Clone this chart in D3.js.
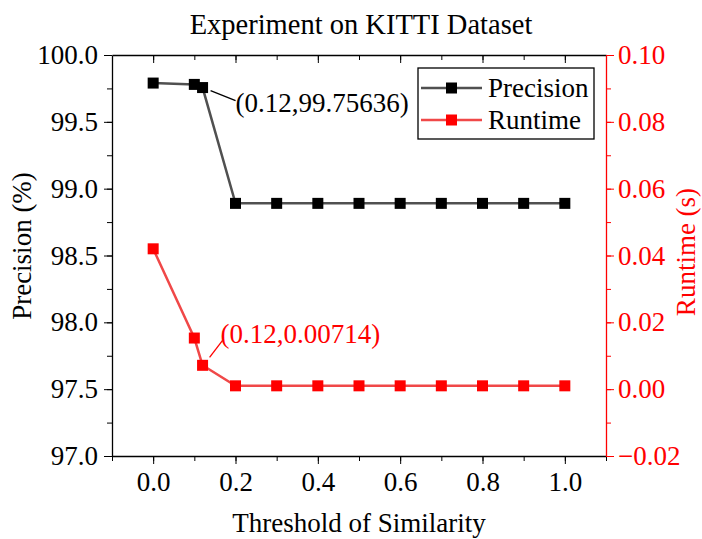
<!DOCTYPE html>
<html>
<head>
<meta charset="utf-8">
<script src="https://cdn.jsdelivr.net/npm/d3@7"></script>
<style>
  body { margin: 0; background: #fff; }
</style>
</head>
<body>
<div id="chart"></div>
<script>
// data
const thresholds = [0.0, 0.1, 0.12, 0.2, 0.3, 0.4, 0.5, 0.6, 0.7, 0.8, 0.9, 1.0];
const precision = [99.79, 99.78, 99.75636, 98.89, 98.89, 98.89, 98.89, 98.89, 98.89, 98.89, 98.89, 98.89];
const runtime = [0.042, 0.0153, 0.00714, 0.001, 0.001, 0.001, 0.001, 0.001, 0.001, 0.001, 0.001, 0.001];
const xTicks = [0.0, 0.2, 0.4, 0.6, 0.8, 1.0];
const precTicks = [97.0, 97.5, 98.0, 98.5, 99.0, 99.5, 100.0];
const runTicks = [-0.02, 0.0, 0.02, 0.04, 0.06, 0.08, 0.10];

const width = 702, height = 539;
const margin = { top: 55, right: 96, bottom: 83, left: 112 };
const red = '#ff0000';
const serif = '"Liberation Serif", "Times New Roman", serif';
const fontSize = '27px';

const svg = d3.select('#chart').append('svg')
    .attr('width', width)
    .attr('height', height)
    .attr('font-family', serif);

const x = d3.scaleLinear().domain([-0.1, 1.1]).range([margin.left, width - margin.right]);
const yL = d3.scaleLinear().domain([97, 100]).range([height - margin.bottom, margin.top]);
const yR = d3.scaleLinear().domain([-0.02, 0.10]).range([height - margin.bottom, margin.top]);

// bottom axis: major + minor ticks
const xMinor = d3.range(-0.1, 1.1001, 0.1).map(v => +v.toFixed(2));
svg.append('g')
    .attr('transform', `translate(0,${height - margin.bottom})`)
    .call(d3.axisBottom(x).tickValues(xMinor).tickSize(5).tickFormat(''))
    .call(g => g.select('.domain').remove());
svg.append('g')
    .attr('transform', `translate(0,${height - margin.bottom})`)
    .call(d3.axisBottom(x).tickValues(xTicks).tickSize(8).tickSizeOuter(0).tickFormat(d3.format('.1f')))
    .call(g => g.attr('font-family', serif))
    .call(g => g.selectAll('text').attr('font-size', fontSize).attr('dy', '0.9em').attr('fill', '#000'))
    .call(g => g.select('.domain').attr('stroke-width', 1.3));

// top axis: ticks inside
svg.append('g')
    .attr('transform', `translate(0,${margin.top})`)
    .call(d3.axisBottom(x).tickValues(xMinor.slice(1, -1)).tickSize(5).tickFormat(''))
    .call(g => g.select('.domain').remove());
svg.append('g')
    .attr('transform', `translate(0,${margin.top})`)
    .call(d3.axisBottom(x).tickValues(xTicks).tickSize(8).tickSizeOuter(0).tickFormat(''))
    .call(g => g.select('.domain').attr('stroke-width', 1.3));

// left axis
const precMinor = d3.range(97, 100.001, 0.25);
svg.append('g')
    .attr('transform', `translate(${margin.left},0)`)
    .call(d3.axisLeft(yL).tickValues(precMinor).tickSize(5).tickFormat(''))
    .call(g => g.select('.domain').remove());
svg.append('g')
    .attr('transform', `translate(${margin.left},0)`)
    .call(d3.axisLeft(yL).tickValues(precTicks).tickSize(8).tickSizeOuter(0).tickFormat(d3.format('.1f')))
    .call(g => g.attr('font-family', serif))
    .call(g => g.selectAll('text').attr('font-size', fontSize).attr('fill', '#000').attr('x', -14))
    .call(g => g.select('.domain').attr('stroke-width', 1.3));

// right axis (red)
const runMinor = d3.range(-0.02, 0.1001, 0.01);
svg.append('g')
    .attr('transform', `translate(${width - margin.right},0)`)
    .call(d3.axisRight(yR).tickValues(runMinor).tickSize(5).tickFormat(''))
    .call(g => g.select('.domain').remove())
    .call(g => g.selectAll('line').attr('stroke', red));
svg.append('g')
    .attr('transform', `translate(${width - margin.right},0)`)
    .call(d3.axisRight(yR).tickValues(runTicks).tickSize(8).tickSizeOuter(0).tickFormat(d3.format('.2f')))
    .call(g => g.attr('font-family', serif))
    .call(g => g.selectAll('text').attr('font-size', fontSize).attr('fill', red).attr('x', 12))
    .call(g => g.selectAll('line').attr('stroke', red))
    .call(g => g.select('.domain').attr('stroke', red).attr('stroke-width', 1.3));

// titles
svg.append('text')
    .attr('x', 361).attr('y', 34)
    .attr('text-anchor', 'middle')
    .attr('font-size', '28.5px')
    .text('Experiment on KITTI Dataset');
svg.append('text')
    .attr('x', 359).attr('y', 532)
    .attr('text-anchor', 'middle')
    .attr('font-size', fontSize)
    .text('Threshold of Similarity');
svg.append('text')
    .attr('transform', `translate(31,246) rotate(-90)`)
    .attr('text-anchor', 'middle')
    .attr('font-size', fontSize)
    .text('Precision (%)');
svg.append('text')
    .attr('transform', `translate(695,252) rotate(-90)`)
    .attr('text-anchor', 'middle')
    .attr('font-size', fontSize)
    .attr('fill', red)
    .text('Runtime (s)');

// series
const series = [
    { name: 'Precision', values: precision, y: yL, line: '#505050', mark: '#000' },
    { name: 'Runtime', values: runtime, y: yR, line: '#f04848', mark: red }
];

series.forEach(s => {
    const pts = thresholds.map((t, i) => [x(t), s.y(s.values[i])]);
    svg.append('path')
        .attr('d', d3.line()(pts))
        .attr('fill', 'none')
        .attr('stroke', s.line)
        .attr('stroke-width', 2.5);
    svg.append('g').selectAll('rect')
        .data(pts)
        .enter()
        .append('rect')
        .attr('x', d => d[0] - 5.5)
        .attr('y', d => d[1] - 5.5)
        .attr('width', 11)
        .attr('height', 11)
        .attr('fill', s.mark);
});

// annotations at threshold 0.12
const pP = [x(0.12), yL(99.75636)];
svg.append('line')
    .attr('x1', pP[0] + 8).attr('y1', pP[1] + 3)
    .attr('x2', pP[0] + 33).attr('y2', pP[1] + 13)
    .attr('stroke', '#000').attr('stroke-width', 1.3);
svg.append('text')
    .attr('x', pP[0] + 33).attr('y', pP[1] + 24)
    .attr('font-size', fontSize)
    .text('(0.12,99.75636)');

const pR = [x(0.12), yR(0.00714)];
svg.append('line')
    .attr('x1', pR[0] + 7).attr('y1', pR[1] - 8)
    .attr('x2', pR[0] + 20).attr('y2', pR[1] - 25)
    .attr('stroke', red).attr('stroke-width', 1.3);
svg.append('text')
    .attr('x', pR[0] + 18).attr('y', pR[1] - 22)
    .attr('font-size', fontSize)
    .attr('fill', red)
    .text('(0.12,0.00714)');

// legend
const lg = svg.append('g').attr('transform', 'translate(418,68)');
lg.append('rect')
    .attr('width', 176).attr('height', 71)
    .attr('fill', '#fff')
    .attr('stroke', '#000').attr('stroke-width', 1.3);
series.forEach((s, i) => {
    const yy = 20 + i * 32;
    lg.append('line')
        .attr('x1', 3).attr('x2', 64).attr('y1', yy).attr('y2', yy)
        .attr('stroke', s.line).attr('stroke-width', 2.5);
    lg.append('rect')
        .attr('x', 28).attr('y', yy - 5.5).attr('width', 11).attr('height', 11)
        .attr('fill', s.mark);
    lg.append('text')
        .attr('x', 70).attr('y', yy + 9)
        .attr('font-size', fontSize)
        .text(s.name);
});
</script>
</body>
</html>
